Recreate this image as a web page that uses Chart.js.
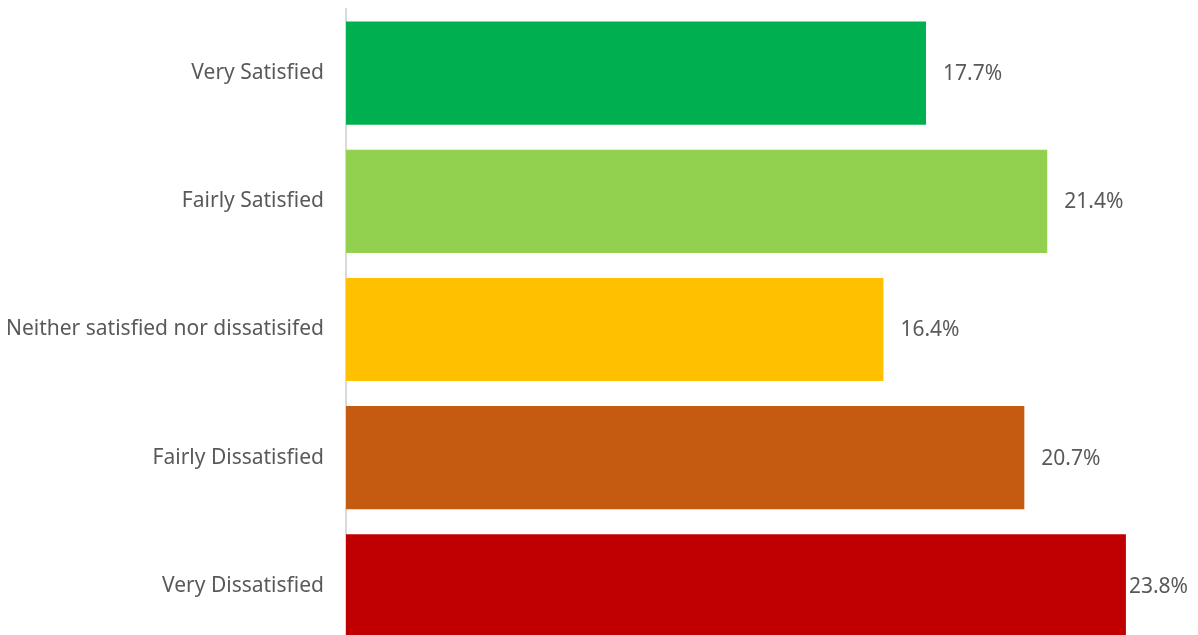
<!DOCTYPE html>
<html>
<head>
<meta charset="utf-8">
<script src="https://cdn.jsdelivr.net/npm/chart.js@4.4.0/dist/chart.umd.min.js"></script>
<style>
  html, body { margin: 0; padding: 0; background: #fff; overflow: hidden; }
  #wrap { width: 1198px; height: 650px; }
</style>
</head>
<body>
<div id="wrap"><canvas id="out" width="1198" height="650"></canvas></div>
<script>
const categories = [
  "Very Satisfied",
  "Fairly Satisfied",
  "Neither satisfied nor dissatisifed",
  "Fairly Dissatisfied",
  "Very Dissatisfied"
];
const shares = [17.7, 21.4, 16.4, 20.7, 23.8];
const barColors = ["#00B050", "#92D050", "#FFC000", "#C55A11", "#C00000"];

const fontName = "'Noto Sans', 'Liberation Sans', sans-serif";
const fontSize = 21;

// value labels to the right of each bar, pulled back in if they would run off the canvas
const valueLabels = {
  id: "valueLabels",
  afterDatasetsDraw(chart) {
    const ctx = chart.ctx;
    const meta = chart.getDatasetMeta(0);
    ctx.save();
    ctx.font = fontSize + "px " + fontName;
    ctx.fillStyle = "#595959";
    ctx.textBaseline = "middle";
    meta.data.forEach((bar, i) => {
      const text = shares[i].toFixed(1) + "%";
      const w = ctx.measureText(text).width;
      let x = bar.x + 17;
      if (x + w > chart.width - 10) x = chart.width - 10 - w;
      ctx.fillText(text, x, bar.y + 1);
    });
    ctx.restore();
  }
};

const canvasCtx = document.getElementById("out").getContext("2d");
new Chart(canvasCtx, {
  type: "bar",
  data: {
    labels: categories,
    datasets: [{
      data: shares,
      backgroundColor: barColors,
      borderWidth: 0,
      barPercentage: 1,
      categoryPercentage: 0.805
    }]
  },
  options: {
    indexAxis: "y",
    responsive: false,
    animation: false,
    layout: { padding: { top: 9, right: 0, bottom: 0, left: 0 } },
    plugins: {
      legend: { display: false },
      tooltip: { enabled: false }
    },
    scales: {
      x: {
        display: false,
        min: 0,
        max: 26
      },
      y: {
        afterFit(scale) {
          scale.width = 346;
          scale.paddingTop = 0;
          scale.paddingBottom = 0;
        },
        grid: { display: false, drawTicks: false },
        border: { display: true, color: "#D9D9D9", width: 2 },
        ticks: {
          padding: 22,
          color: "#595959",
          font: { family: fontName, size: fontSize }
        }
      }
    }
  },
  plugins: [valueLabels]
});
</script>
</body>
</html>
